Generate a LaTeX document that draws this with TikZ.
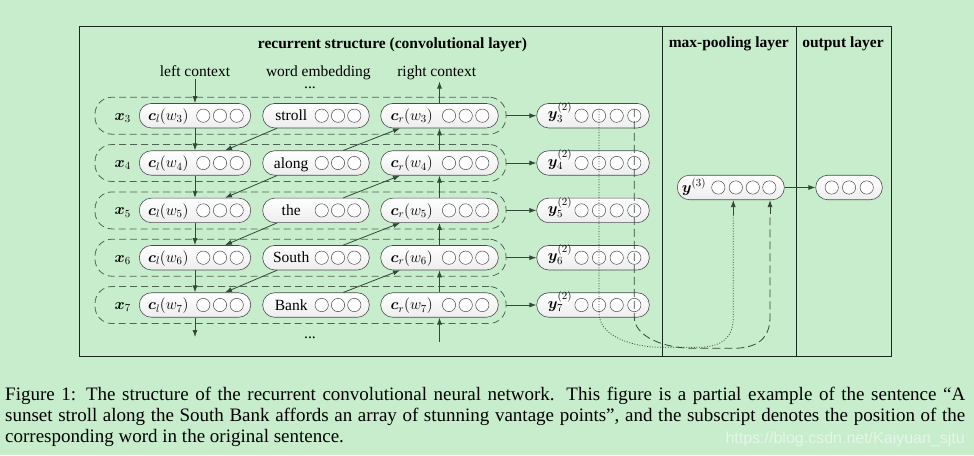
\RequirePackage{fix-cm}
\documentclass[tikz,border=0pt]{standalone}
\usepackage{amsmath}
\usepackage{bm}
\usepackage{fontspec}
\setmainfont{Liberation Serif}
\setsansfont{Liberation Sans}
\usetikzlibrary{arrows.meta,calc}
\definecolor{bg}{RGB}{199,237,204}
\definecolor{arrc}{RGB}{52,72,56}
\definecolor{boxc}{RGB}{80,100,85}
\definecolor{framec}{RGB}{25,40,28}
\definecolor{wmc}{RGB}{228,246,231}
\tikzset{
 pill/.style={draw=black!70, top color=white, bottom color=black!7, rounded corners=12pt, minimum height=24.5pt, inner sep=0pt, line width=0.6pt},
 circ/.style={draw=black!70, fill=white, circle, minimum size=13.3pt, inner sep=0pt, line width=0.5pt},
 rowbox/.style={draw=boxc, dash pattern=on 7pt off 4pt, rounded corners=17pt, minimum width=411pt, minimum height=37pt, inner sep=0pt, line width=0.8pt},
 arr/.style={draw=arrc, line width=0.8pt, -{Latex[length=7pt,width=5pt]}},
 lbl/.style={font=\fontsize{15.5}{17}\selectfont, inner sep=0pt, anchor=base},
 ttl/.style={font=\fontsize{15.5}{17}\selectfont\bfseries, inner sep=0pt, anchor=base},
 dotline/.style={draw=arrc, line width=0.7pt, dash pattern=on 1pt off 1.6pt},
 dashline/.style={draw=arrc, line width=0.8pt, dash pattern=on 8pt off 4pt},
}
\begin{document}
\begin{tikzpicture}[x=1pt,y=-1pt]
\useasboundingbox[fill=bg] (0,0) rectangle (974,455);
% frame
\draw[framec, line width=0.8pt] (79.5,26) rectangle (891.5,356.5);
\draw[framec, line width=0.8pt] (662.7,26) -- (662.7,356.5);
\draw[framec, line width=0.8pt] (796.7,26) -- (796.7,356.5);
% titles
\node[ttl] (t1) at (392.5,48) {recurrent structure (convolutional layer)};
\node[ttl] (t2) at (728.8,47) {max-pooling layer};
\node[ttl] (t3) at (843,47) {output layer};
\node[lbl] (lc) at (195,76) {left context};
\node[lbl] (we) at (318.3,76) {word embedding};
\node[lbl] (rc) at (436.7,76) {right context};
\node[lbl] (dtop) at (310,88.5) {...};
\node[lbl] (dbot) at (310,338) {...};
% rows
\foreach \i/\yy/\w in {3/115.7/stroll,4/163/along,5/210.4/the,6/257.7/South,7/305/Bank}{
  \node[rowbox] (rb\i) at (300.5,\yy) {};
  \node[lbl] (x\i) at (122.7,\yy+4.5) {$\bm{x}_{\i}$};
  \node[pill, minimum width=111.4pt] (cl\i) at (195,\yy) {};
  \node[lbl] (clt\i) at (168.3,\yy+4.8) {$\bm{c}_l(w_{\i})$};
  \foreach \dx [count=\k] in {8.3,25,41.7} \node[circ] (cl\i-\k) at (195+\dx,\yy) {};
  \node[pill, minimum width=106.6pt] (w\i) at (316,\yy) {};
  \node[lbl] (wt\i) at (291.2,\yy+5) {\w};
  \foreach \dx [count=\k] in {5.7,22,38.3} \node[circ] (w\i-\k) at (316+\dx,\yy) {};
  \node[pill, minimum width=117.6pt] (cr\i) at (439.5,\yy) {};
  \node[lbl] (crt\i) at (411.7,\yy+4.8) {$\bm{c}_r(w_{\i})$};
  \foreach \dx [count=\k] in {9.5,26.2,42.8} \node[circ] (cr\i-\k) at (439.5+\dx,\yy) {};
  \node[pill, minimum width=112.6pt] (yy\i) at (593,\yy) {};
  \node[lbl] (yyt\i) at (560,\yy+3) {$\bm{y}^{(2)}_{\i}$};
  \foreach \dx [count=\k] in {-11.5,6,23.7,41.3} \node[circ] (yy\i-\k) at (593+\dx,\yy) {};
  \draw[arr] (rb\i.east) -- (yy\i.west);
}
% max pooling node
\node[pill, minimum width=107pt] (ymax) at (730.8,187.5) {};
\node[lbl] (ymaxt) at (694,192) {$\bm{y}^{(3)}$};
\foreach \dx [count=\k] in {-12.5,5,22,38.5} \node[circ] (ymax-\k) at (730.8+\dx,187.5) {};
% output node
\node[pill, minimum width=66.6pt] (out) at (849,187.5) {};
\foreach \dx [count=\k] in {-17.3,0,17.7} \node[circ] (out-\k) at (849+\dx,187.5) {};
\draw[arr] (ymax.east) -- (out.west);
% left context column
\draw[arr, shorten <=3pt] (lc.south) -- (cl3.north);
\foreach \i/\j in {3/4,4/5,5/6,6/7} \draw[arr] (cl\i.south) -- (cl\j.north);
\coordinate (clend) at (195,337);
\draw[arr] (cl7.south) -- (clend);
% right context column
\draw[arr, shorten >=2pt] (cr3.north) -- (cr3.north |- rc.south);
\foreach \i/\j in {4/3,5/4,6/5,7/6} \draw[arr] (cr\i.north) -- (cr\j.south);
\coordinate (crstart) at (439.5,342);
\draw[arr] (crstart) -- (cr7.south);
% diagonals
\foreach \i/\j in {3/4,4/5,5/6,6/7}{
  \draw[arr] ([xshift=-39pt]w\i.south) -- ([xshift=30pt]cl\j.north);
  \draw[arr] ([xshift=27.3pt]w\j.north) -- ([xshift=-39.5pt]cr\i.south);
}
% pooling connectors
\draw[dotline] (yy3-2.north) -- (599,313) .. controls (599,336) and (632,347.3) .. (662,347.3) -- (697,347.3) .. controls (722,347.3) and (733.3,338) .. (733.3,317) -- (733.3,215);
\draw[arr] (733.3,215) -- ([xshift=2.5pt]ymax.south);
\draw[dashline] (yy3-4.north) -- (634.3,317) .. controls (634.3,337) and (665,348.3) .. (693,348.3) -- (733,348.3) .. controls (758,348.3) and (770,338) .. (770,317) -- (770,214);
\draw[arr] (770,214) -- ([xshift=39.2pt]ymax.south);
% caption
\node[anchor=north west, text width=960pt, align=justify, inner sep=0pt, font=\fontsize{19}{21}\selectfont] (cap) at (5,387) {Figure 1: The structure of the recurrent convolutional neural network. This figure is a partial example of the sentence “A\linebreak sunset stroll along the South Bank affords an array of stunning vantage points”, and the subscript denotes the position of the\linebreak corresponding word in the original sentence.};
\node[anchor=base east, inner sep=0pt, text=wmc, font=\sffamily\fontsize{16}{17}\selectfont] (wm) at (965,443) {https://blog.csdn.net/Kaiyuan\_sjtu};
\end{tikzpicture}
\end{document}
